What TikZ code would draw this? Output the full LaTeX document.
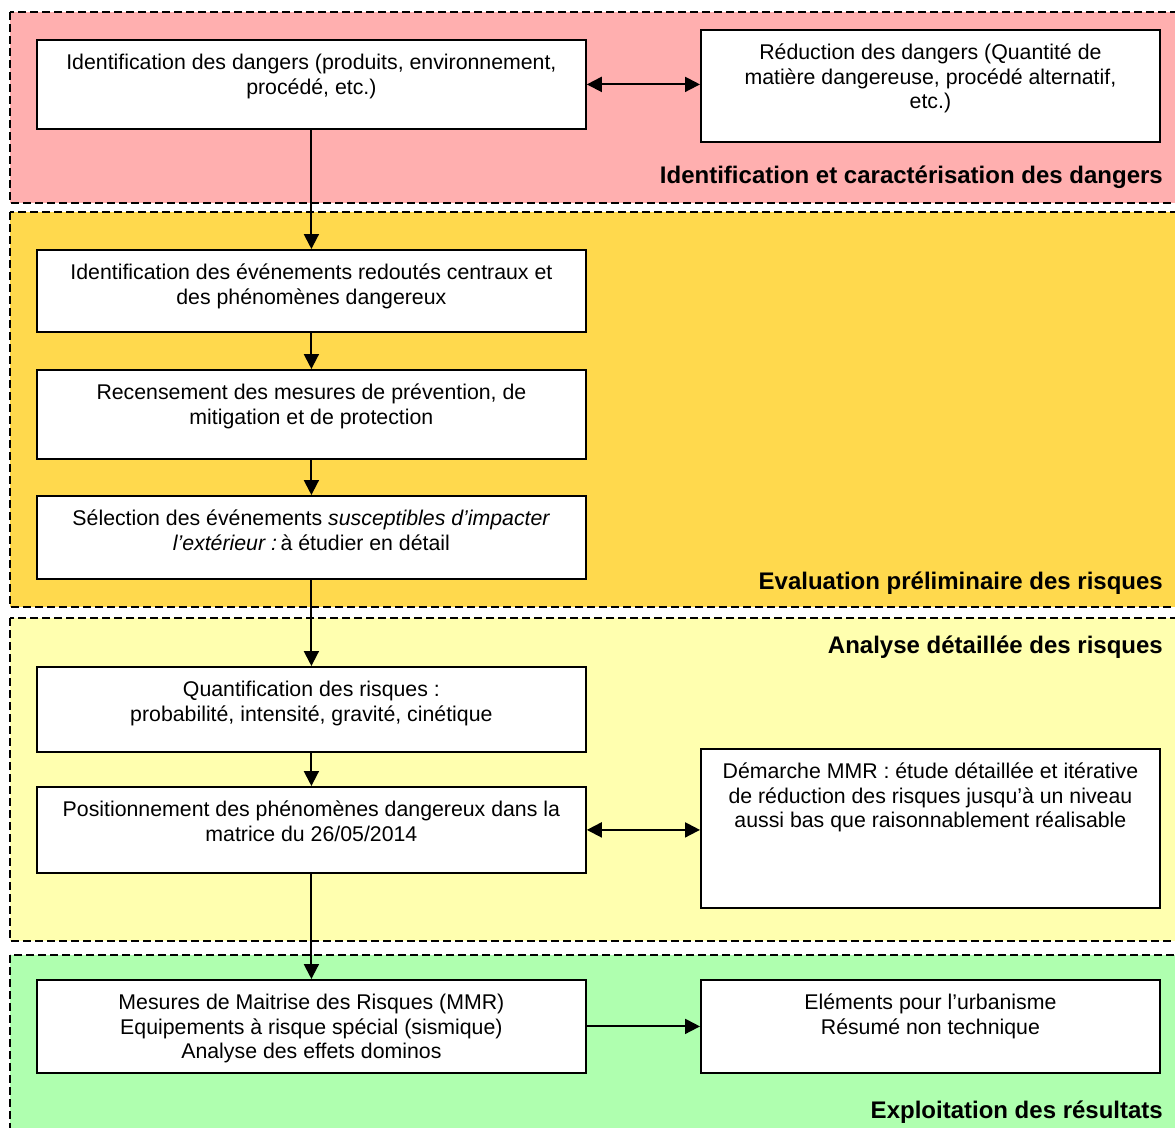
\documentclass[tikz,border=0pt]{standalone}
\usepackage{fontspec}
\setmainfont{Liberation Sans}
\usetikzlibrary{arrows.meta,shadows}
\definecolor{pinkbg}{RGB}{255,175,175}
\definecolor{orangebg}{RGB}{255,217,77}
\definecolor{ltyellow}{RGB}{255,255,175}
\definecolor{greenbg}{RGB}{175,255,175}
\newcommand\bxt[3]{\parbox[c][#1pt][t]{#2pt}{\centering\fontsize{21.3}{24.5}\selectfont\vspace*{12.9pt}\strut #3}}
\tikzset{
  panel/.style={draw=black, line width=1.6pt, dash pattern=on 8pt off 4pt},
  box/.style={draw=black, fill=white, line width=1.8pt, inner sep=0pt, anchor=north west,
    general shadow={fill=black!80, shadow xshift=1.5pt, shadow yshift=-1.5pt}},
  lbl/.style={font=\bfseries\fontsize{24}{28}\selectfont, anchor=base east, inner sep=0pt},
  conn/.style={line width=2pt, -{Triangle[length=15pt,width=15pt]}},
  dconn/.style={line width=2pt, {Triangle[length=15pt,width=15pt]}-{Triangle[length=15pt,width=15pt]}}
}
\begin{document}
\begin{tikzpicture}[x=1pt,y=-1pt]
\useasboundingbox (0,0) rectangle (1175,1127);
\clip (0,0) rectangle (1175,1127);
\fill[white] (0,0) rectangle (1175,1127);
% panels
\path[panel, fill=pinkbg] (10,12) rectangle (1195,203);
\path[panel, fill=orangebg] (10,212) rectangle (1195,607);
\path[panel, fill=ltyellow] (10,618) rectangle (1195,941);
\path[panel, fill=greenbg] (10,955) rectangle (1195,1150);
% labels
\node[lbl] (l1) at (1163,183) {Identification et caractérisation des dangers};
\node[lbl] (l2) at (1163,589) {Evaluation préliminaire des risques};
\node[lbl] (l3) at (1163,653) {Analyse détaillée des risques};
\node[lbl] (l4) at (1163,1118) {Exploitation des résultats};
% boxes
\node[box] (b1) at (36,39) {\bxt{89}{549}{Identification des dangers (produits, environnement,\\procédé, etc.)}};
\node[box] (b2) at (700,29) {\bxt{112}{459}{Réduction des dangers (Quantité de\\matière dangereuse, procédé alternatif,\\etc.)}};
\node[box] (b3) at (36,249) {\bxt{82}{549}{Identification des événements redoutés centraux et\\des phénomènes dangereux}};
\node[box] (b4) at (36,369) {\bxt{89}{549}{Recensement des mesures de prévention, de\\mitigation et de protection}};
\node[box] (b5) at (36,495) {\bxt{83}{549}{Sélection des événements \textit{susceptibles d’impacter}\\\textit{l’extérieur :}\,à étudier en détail}};
\node[box] (b6) at (36,666) {\bxt{85}{549}{Quantification des risques :\\probabilité, intensité, gravité, cinétique}};
\node[box] (b7) at (36,786) {\bxt{86}{549}{Positionnement des phénomènes dangereux dans la\\matrice du 26/05/2014}};
\node[box] (b8) at (700,748) {\bxt{159}{459}{Démarche MMR : étude détaillée et itérative\\de réduction des risques jusqu’à un niveau\\aussi bas que raisonnablement réalisable}};
\node[box] (b9) at (36,979) {\bxt{93}{549}{Mesures de Maitrise des Risques (MMR)\\Equipements à risque spécial (sismique)\\Analyse des effets dominos}};
\node[box] (b10) at (700,979) {\bxt{93}{459}{Eléments pour l’urbanisme\\Résumé non technique}};
% connectors
\draw[conn] (b1.south) -- (b3.north);
\draw[conn] (b3.south) -- (b4.north);
\draw[conn] (b4.south) -- (b5.north);
\draw[conn] (b5.south) -- (b6.north);
\draw[conn] (b6.south) -- (b7.north);
\draw[conn] (b7.south) -- (b9.north);
\draw[dconn] (b1.east) -- (b1.east -| b2.west);
\draw[dconn] (b7.east) -- (b7.east -| b8.west);
\draw[conn] (b9.east) -- (b9.east -| b10.west);
\end{tikzpicture}
\end{document}
